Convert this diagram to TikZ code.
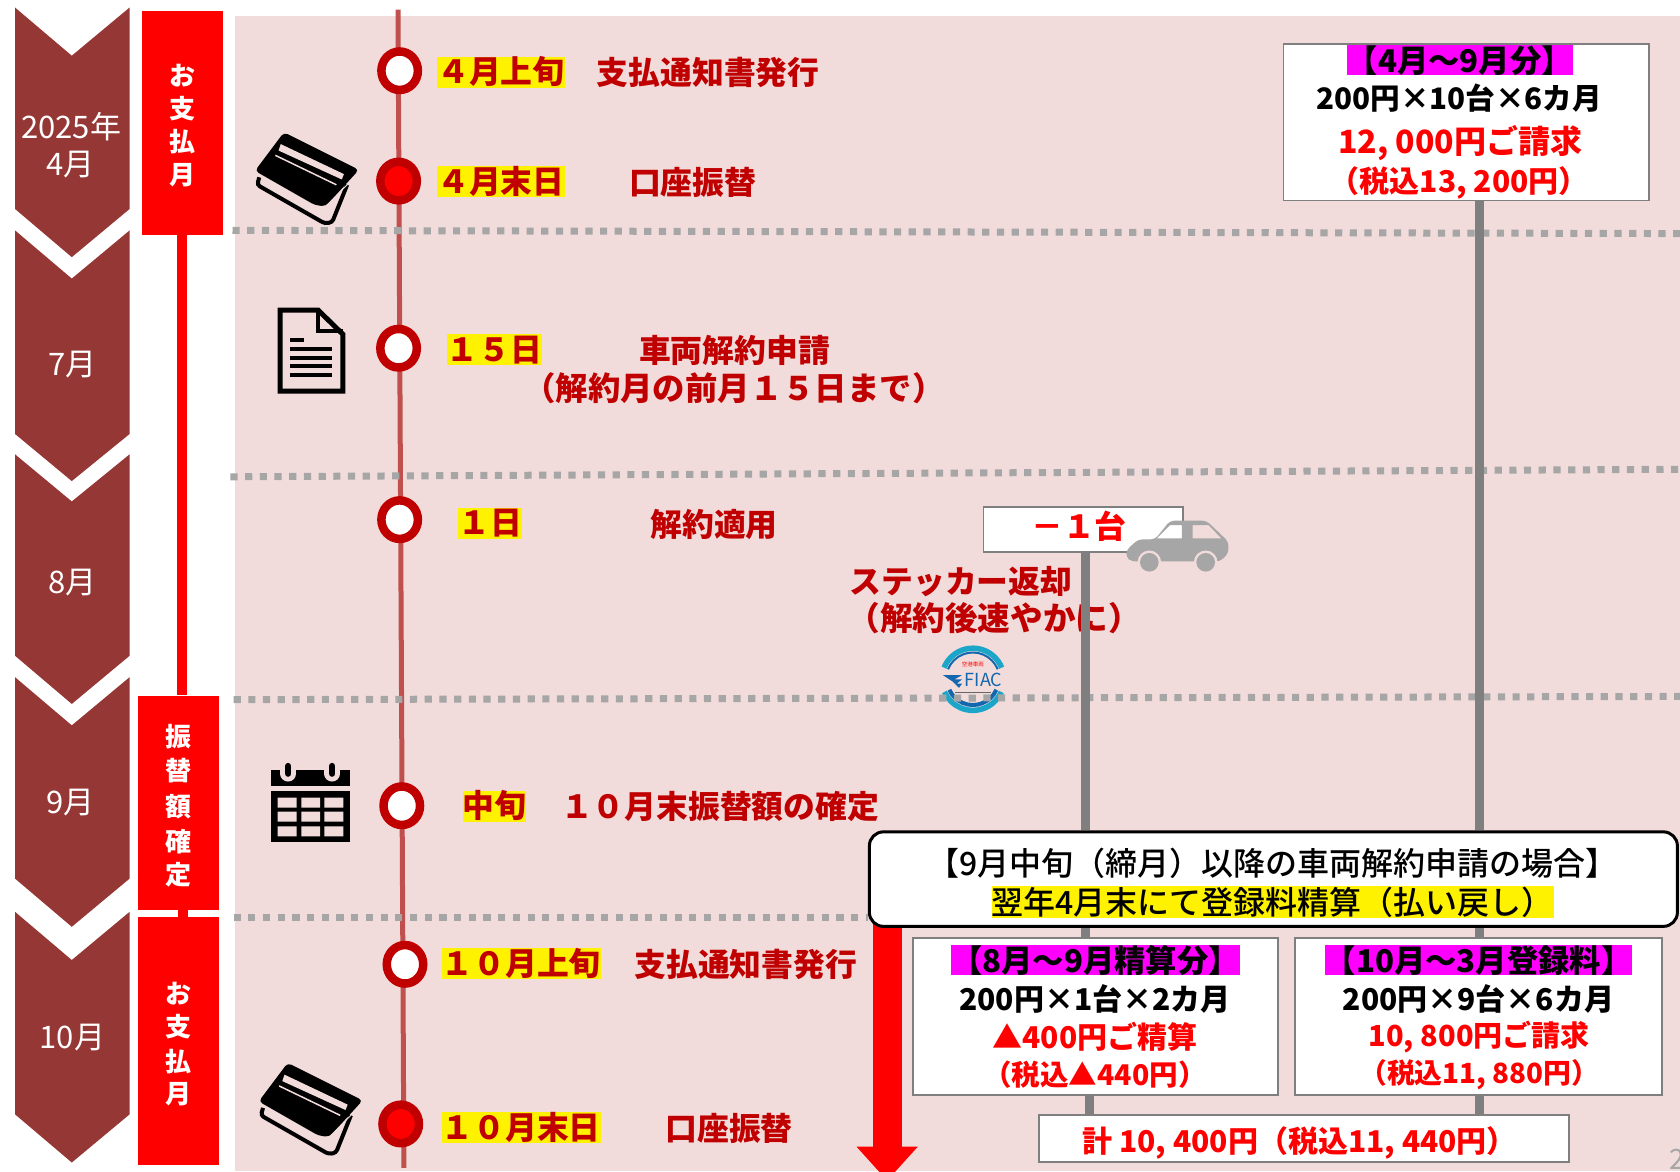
\documentclass[tikz,border=0pt]{standalone}
\usepackage{fontspec}
\setmainfont{Noto Sans CJK JP}
\newfontfamily\jpmedium{Noto Sans CJK JP Medium}
\usetikzlibrary{arrows.meta}
\usetikzlibrary{shapes.geometric}
\definecolor{chevcol}{HTML}{953735}
\definecolor{pinkbg}{HTML}{F2DCDB}
\definecolor{darkred}{HTML}{C00000}
\definecolor{linered}{HTML}{C0504D}
\definecolor{dotgray}{HTML}{A6A6A6}
\definecolor{polegray}{HTML}{7F7F7F}
\definecolor{logocyan}{HTML}{1BA6C9}
\definecolor{logoblue}{HTML}{1267AE}
\definecolor{headmag}{HTML}{FF00FF}
\tikzset{
	fs/.style={font=\fontsize{#1}{#1}\selectfont\bfseries},
	fr/.style={font=\fontsize{#1}{#1}\selectfont},
	fm/.style={font=\fontsize{#1}{#1}\selectfont\jpmedium},
	cardicon/.pic={
		\draw[black,line width=4pt,rounded corners=3pt] (-44,-1) -- (-46,6) -- (17,42) -- (24,41) -- (38,6);
		\fill[black,rounded corners=4pt] (-21,-43) -- (49,-8) -- (18,26) -- (8,25) -- (-48,-7) -- cycle;
		\fill[pinkbg] (-24,-32) -- (35,-4) -- (33,1) -- (-26,-26) -- cycle;
		\draw[pinkbg,line width=1.5pt] (-29,-21.5) -- (28,6);
		\draw[pinkbg,line width=1pt] (18,26) -- (38,6);
	}
}
\begin{document}
\begin{tikzpicture}[x=1.0714pt,y=-1.0714pt,
		chev/.style = {fill=chevcol},
		ring/.style = {ellipse,draw=darkred,line width=8.5pt,minimum width=36.5pt,minimum height=38.5pt,inner sep=0pt},
		hl/.style = {fill=yellow,inner sep=0pt,text height=27pt,text depth=4pt},
		mg/.style = {fill=headmag,inner sep=0pt,text height=27.5pt,text depth=3pt},
		sign/.style = {draw=polegray,line width=1.8pt,fill=white,inner sep=0pt},
		dots/.style = {dotgray,line width=7pt,dash pattern=on 7.2pt off 7.5pt},
		pole/.style = {polegray,line width=9pt},
		redbar/.style = {fill=red,inner sep=0pt,minimum width=81pt}]
	\useasboundingbox (0,0) rectangle (1568,1093);
	\fill[pinkbg] (219,15) rectangle (1568,1093);

	\fill[chev] (14,7) -- (67,52) -- (121,7) -- (121,195) -- (67,240) -- (14,195) -- cycle;
	\fill[chev] (14,215) -- (67,260) -- (121,215) -- (121,405) -- (67,449) -- (14,405) -- cycle;
	\fill[chev] (14,424) -- (67,468) -- (121,424) -- (121,612) -- (67,657) -- (14,612) -- cycle;
	\fill[chev] (14,632) -- (67,677) -- (121,632) -- (121,820) -- (67,865) -- (14,820) -- cycle;
	\fill[chev] (14,851) -- (67,896) -- (121,851) -- (121,1040) -- (67,1085) -- (14,1040) -- cycle;
	\begin{scope}[every node/.style={fr=31,text=white,inner sep=0pt}]
		\node (Y) at (66.5,118) {2025年};
		\node (M4) at (66,154) {4月};
		\node (M7) at (67.5,340) {7月};
		\node (M8) at (67.5,544) {8月};
		\node (M9) at (65.5,749) {9月};
		\node (M10) at (67.5,968) {10月};
	\end{scope}

	\node[redbar,minimum height=224pt] (A) at (170,114.5) {};
	\node[redbar,minimum height=214pt] (B) at (166.5,749) {};
	\node[redbar,minimum height=247.5pt] (C) at (166.5,971.5) {};
	\draw[red,line width=10pt] (A.south) -- (A.south |- B.north);
	\draw[red,line width=10pt] (B.south) ++(4,0) -- ++(0,7);
	\begin{scope}[every node/.style={fs=26,text=white,inner sep=0pt}]
		\node (A1) at (170.5,70.5) {お};
		\node (A2) at (170.5,101.5) {支};
		\node (A3) at (170.5,132.5) {払};
		\node (A4) at (170.5,163.5) {月};
		\node (B1) at (167,687.5) {振};
		\node (B2) at (167,719.5) {替};
		\node (B3) at (167,752.5) {額};
		\node (B4) at (167,785.5) {確};
		\node (B5) at (167,816.5) {定};
		\node (C1) at (166.5,927.5) {お};
		\node (C2) at (166.5,958.5) {支};
		\node (C3) at (166.5,990.5) {払};
		\node (C4) at (166.5,1021.5) {月};
	\end{scope}

	\pic at (286,166.5) {cardicon};
	\pic at (289.5,1035) {cardicon};

	\draw[black,line width=5pt,line join=miter] (261.5,289.5) -- (297,289.5) -- (320,312) -- (320,365) -- (261.5,365) -- cycle;
	\draw[black,line width=4pt] (297,289) -- (297,309) -- (320,309);
	\draw[black,line width=4pt] (271,317.6) -- (284,317.6);
	\draw[black,line width=4pt] (271,325.8) -- (310,325.8);
	\draw[black,line width=4pt] (271,333.8) -- (310,333.8);
	\draw[black,line width=4pt] (271,341.7) -- (310,341.7);
	\draw[black,line width=4pt] (271,350) -- (310,350);

	\fill[black] (252.7,718.7) rectangle (326.7,733.6);
	\draw[pinkbg,line width=16pt,line cap=round] (269,716) -- (269,722);
	\draw[pinkbg,line width=16pt,line cap=round] (310,716) -- (310,722);
	\fill[pinkbg] (258,708) rectangle (322,718.7);
	\draw[black,line width=6.5pt,line cap=round] (269,715) -- (269,722);
	\draw[black,line width=6.5pt,line cap=round] (310,715) -- (310,722);
	\fill[black] (252.7,738.3) rectangle (326.7,786.2);
	\fill[pinkbg] (259.2,744.5) rectangle (276.9,753.8) (281.3,744.5) rectangle (298.7,753.8) (302.7,744.5) rectangle (320.4,753.8);
	\fill[pinkbg] (259.2,757.6) rectangle (276.9,766.9) (281.3,757.6) rectangle (298.7,766.9) (302.7,757.6) rectangle (320.4,766.9);
	\fill[pinkbg] (259.2,771.3) rectangle (276.9,780.6) (281.3,771.3) rectangle (298.7,780.6) (302.7,771.3) rectangle (320.4,780.6);

	\coordinate (T0) at (371.5,9);
	\coordinate (T1) at (377,1090);
	\draw[linered,line width=5pt] (T0) -- (T1);
	\begin{scope}[every node/.style={ring,fill=white}]
		\node (P1) at (373,66) {};
		\node[fill=red] (P2) at (372,169) {};
		\node (P3) at (372,325) {};
		\node (P4) at (373,485) {};
		\node (P5) at (375,752) {};
		\node (P6) at (378,900) {};
		\node[fill=red] (P7) at (374,1049) {};
	\end{scope}

	\begin{scope}[every node/.style={fs=31.8,text=darkred,inner sep=0pt}]
		\node[hl] (L1) at (467.5,67.5) {４月上旬};
		\node (L1b) at (661,67.5) {支払通知書発行};
		\node[hl] (L2) at (467.5,169.5) {４月末日};
		\node (L2b) at (646.5,170.5) {口座振替};
		\node[hl] (L3) at (461.5,326.5) {１５日};
		\node (L3b) at (685.5,327) {車両解約申請};
		\node[fs=32.4] (L3c) at (685,362) {（解約月の前月１５日まで）};
		\node[hl] (L4) at (457.5,488.5) {１日};
		\node (L4b) at (666.5,489.5) {解約適用};
		\node (L4c) at (897,542.5) {ステッカー返却};
		\node[fs=32.6] (L4d) at (928,577) {（解約後速やかに）};
		\node[hl] (L5) at (461.5,752.5) {中旬};
		\node (L5b) at (672,752.5) {１０月末振替額の確定};
		\node[hl] (L6) at (486.5,899.5) {１０月上旬};
		\node (L6b) at (696,900) {支払通知書発行};
		\node[hl] (L7) at (486.5,1052.5) {１０月末日};
		\node (L7b) at (680.5,1053) {口座振替};
	\end{scope}

	\draw[logocyan,line width=5.5pt] (908,634) ++(-22:29) arc[start angle=-22,end angle=-158,radius=29];
	\draw[logoblue,line width=2pt] (908,634) ++(-22:25) arc[start angle=-22,end angle=-158,radius=25];
	\draw[logocyan,line width=5.5pt] (908,634) ++(24:29) arc[start angle=24,end angle=156,radius=29];
	\draw[logoblue,line width=4pt] (908,634) ++(24:24) arc[start angle=24,end angle=156,radius=24];
	\node[fr=5.5,text=red,inner sep=0pt] (F1) at (908,620) {空港車両};
	\node[fr=18,text=logoblue,inner sep=0pt] (F2) at (918,635) {FIAC};
	\fill[logoblue] (880,630) -- (898,630) -- (891,634) -- (898,634) -- (893,638) -- (898,638) -- (895,642) -- (889,636) -- cycle;
	\draw[black!60,line width=1.2pt] (891,646) -- (925,646);

	\coordinate (D1a) at (217,215);
	\coordinate (D1b) at (1568,218);
	\coordinate (D2a) at (215,445);
	\coordinate (D2b) at (1568,438);
	\coordinate (D3a) at (218,653);
	\coordinate (D3b) at (1568,650);
	\coordinate (D4a) at (218,856);
	\coordinate (D4b) at (810,856);
	\draw[dots] (D1a) -- (D1b);
	\draw[dots] (D2a) -- (D2b);
	\draw[dots] (D3a) -- (D3b);
	\draw[dots] (D4a) -- (D4b);

	\coordinate (X1) at (1381,0);
	\coordinate (X2) at (1013,0);
	\coordinate (X3) at (1017,0);
	\coordinate (Z0) at (828,850);
	\coordinate (Z) at (828,1102);
	\draw[red,line width=29pt,-{Triangle[length=34pt,width=59pt]}] (Z0) -- (Z);

	\node[sign,minimum width=365.5pt,minimum height=156.8pt] (R) at (1368.5,114) {};
	\node[sign,minimum width=199.5pt,minimum height=45.3pt] (N) at (1011,494) {};
	\node[draw=black,line width=3pt,fill=white,rounded corners=14pt,inner sep=0pt,minimum width=808pt,minimum height=94.5pt] (W) at (1188.5,820.5) {};
	\node[sign,minimum width=365.5pt,minimum height=156.8pt] (S) at (1022.5,949) {};
	\node[sign,minimum width=366.5pt,minimum height=156.8pt] (Q) at (1380,949) {};
	\node[sign,minimum width=529.5pt,minimum height=46.4pt] (U) at (1217,1062.5) {};
	\draw[pole] (R.south -| X1) -- (W.north -| X1);
	\draw[pole] (N.south -| X2) -- (W.north -| X2);
	\draw[pole] (W.south -| X1) -- (Q.north -| X1);
	\draw[pole] (W.south -| X2) -- (S.north -| X2);
	\draw[pole] (Q.south -| X1) -- (U.north -| X1);
	\draw[pole] (S.south -| X3) -- (U.north -| X3);

	\begin{scope}[every node/.style={fs=31.3,inner sep=0pt}]
		\node[mg] (R1) at (1362.5,56) {【4月～9月分】};
		\node[fs=29.6] (R2) at (1362,92) {200円×10台×6カ月};
		\node[fs=32,text=red] (R3) at (1363,133.5) {12, 000円ご請求};
		\node[fs=30,text=red] (R4) at (1362,171) {（税込13, 200円）};
		\node[fs=31.8,text=red] (N1) at (1007,491.5) {－１台};
		\node[fm=32] (W1) at (1188,806) {【9月中旬（締月）以降の車両解約申請の場合】};
		\node[fm=32,fill=yellow,text height=28pt,text depth=4pt] (W3) at (1188,842) {翌年4月末にて登録料精算（払い戻し）};
		\node[mg] (S1) at (1022.5,896) {【8月～9月精算分】};
		\node[fs=30] (S2) at (1022,932.5) {200円×1台×2カ月};
		\node[fs=30,text=red] (S3) at (1022,968) {▲400円ご精算};
		\node[fs=28.5,text=red] (S4) at (1022,1003) {（税込▲440円）};
		\node[mg] (Q1) at (1380,896) {【10月～3月登録料】};
		\node[fs=30] (Q2) at (1380,932.5) {200円×9台×6カ月};
		\node[fs=29,text=red] (Q3) at (1380.5,968) {10, 800円ご請求};
		\node[fs=27.8,text=red] (Q4) at (1380.5,1003) {（税込11, 880円）};
		\node[fs=30,text=red] (U1) at (1213,1067) {計 10, 400円（税込11, 440円）};
	\end{scope}

	\fill[dotgray,even odd rule] [rounded corners=4pt] (1051.6,513) -- (1062.5,503.4) -- (1078,503.4) -- (1092,486) -- (1126,486) -- (1146.5,505.5) -- (1146.5,516.4) -- (1138.7,524) -- (1056,524) -- (1051,520) -- cycle
		[sharp corners] (1079.6,502.4) -- (1092,490) -- (1103,490) -- (1103,502.4) -- cycle
		(1113,490) -- (1127.8,490) -- (1140,502.4) -- (1113,502.4) -- cycle;
	\fill[pinkbg] (1072.7,524.8) circle[radius=11];
	\fill[pinkbg] (1125.3,524.8) circle[radius=11];
	\fill[dotgray] (1072.7,524.8) circle[radius=8.7];
	\fill[dotgray] (1125.3,524.8) circle[radius=8.7];
	\node[fr=28,text=dotgray,anchor=west,inner sep=0pt] (G) at (1558,1082) {2};
\end{tikzpicture}
\end{document}
